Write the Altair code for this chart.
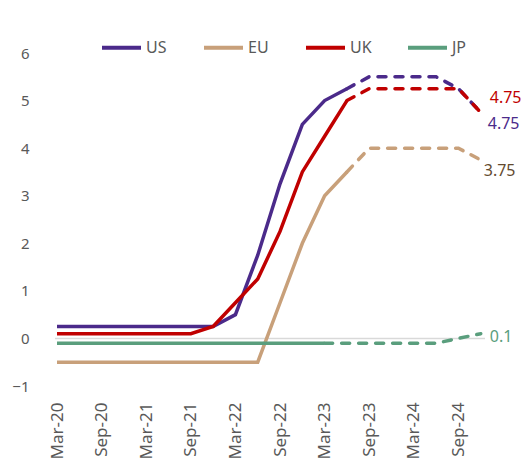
import altair as alt
import pandas as pd

quarters = ["Mar-20", "Jun-20", "Sep-20", "Dec-20", "Mar-21", "Jun-21", "Sep-21", "Dec-21",
            "Mar-22", "Jun-22", "Sep-22", "Dec-22", "Mar-23", "Jun-23", "Sep-23", "Dec-23",
            "Mar-24", "Jun-24", "Sep-24", "Dec-24"]

us = [0.25, 0.25, 0.25, 0.25, 0.25, 0.25, 0.25, 0.25, 0.5, 1.75, 3.25, 4.5, 5.0, 5.25, 5.5, 5.5, 5.5, 5.5, 5.25, 4.75]
eu = [-0.5, -0.5, -0.5, -0.5, -0.5, -0.5, -0.5, -0.5, -0.5, -0.5, 0.75, 2.0, 3.0, 3.5, 4.0, 4.0, 4.0, 4.0, 4.0, 3.75]
uk = [0.1, 0.1, 0.1, 0.1, 0.1, 0.1, 0.1, 0.25, 0.75, 1.25, 2.25, 3.5, 4.25, 5.0, 5.25, 5.25, 5.25, 5.25, 5.25, 4.75]
jp = [-0.1, -0.1, -0.1, -0.1, -0.1, -0.1, -0.1, -0.1, -0.1, -0.1, -0.1, -0.1, -0.1, -0.1, -0.1, -0.1, -0.1, -0.1, 0.0, 0.1]

series_names = ["US", "EU", "UK", "JP"]
series_values = [us, eu, uk, jp]
actual_until = ["Jun-23", "Jun-23", "Jun-23", "Mar-23"]
series_colors = ["#4B2A8A", "#C8A07A", "#C00000", "#5A9E7D"]
label_colors = ["#4B2A8A", "#634A2F", "#C00000", "#5A9E7D"]

FONT = "Noto Sans"
GREY = "#595959"

rows = []
for name, vals, until in zip(series_names, series_values, actual_until):
    split = quarters.index(until)
    for i, v in enumerate(vals):
        if i <= split:
            rows.append({"q": i, "series": name, "value": v, "part": "actual"})
        if i >= split:
            rows.append({"q": i, "series": name, "value": v, "part": "forecast"})
df = pd.DataFrame(rows)

label_js = "[" + ",".join("'" + q + "'" for q in quarters) + "][datum.value]"

x_enc = alt.X("q:Q",
              scale=alt.Scale(domain=[-0.09, 19.19], nice=False, zero=False),
              axis=alt.Axis(values=list(range(0, len(quarters), 2)), labelExpr=label_js,
                            labelAngle=270, labelPadding=16, labelFontSize=17, labelColor=GREY,
                            labelFont=FONT, domain=False, ticks=False, grid=False, title=None,
                            labelOverlap=False))
y_enc = alt.Y("value:Q",
              scale=alt.Scale(domain=[-1, 6], nice=False),
              axis=alt.Axis(values=[-1, 0, 1, 2, 3, 4, 5, 6], labelPadding=26, labelFontSize=15,
                            labelColor=GREY, labelFont=FONT, domain=False, ticks=False,
                            grid=False, title=None))

color_scale = alt.Scale(domain=series_names, range=series_colors)

zero = alt.Chart(pd.DataFrame({"value": [0]})).mark_rule(color="#D9D9D9", strokeWidth=1.5).encode(
    y=y_enc)

base = alt.Chart(df)

solid = base.transform_filter(alt.datum.part == "actual").mark_line(strokeWidth=3.5).encode(
    x=x_enc, y=y_enc,
    color=alt.Color("series:N", scale=color_scale, sort=series_names,
                    legend=alt.Legend(title=None, orient="none", legendX=45, legendY=-27,
                                      direction="horizontal", columns=4, columnPadding=28,
                                      symbolType="stroke", symbolSize=1521, symbolStrokeWidth=4,
                                      symbolDash=[1, 0], labelFontSize=16, labelColor=GREY,
                                      labelFont=FONT, labelOffset=3, padding=0, gridAlign="all")),
    order=alt.Order("q:Q"))

dashed = base.transform_filter(alt.datum.part == "forecast").mark_line(
    strokeWidth=3.5, strokeDash=[8, 9], strokeCap="round").encode(
    x=x_enc, y=y_enc,
    color=alt.Color("series:N", scale=color_scale, sort=series_names, legend=None),
    order=alt.Order("q:Q"))

label_offsets = {"US": (7, 12), "EU": (3, 11), "UK": (9, -14), "JP": (9, 3)}
labels = []
for name, vals, lc in zip(series_names, series_values, label_colors):
    last = pd.DataFrame({"q": [len(vals) - 1], "value": [vals[-1]], "txt": [str(vals[-1])]})
    dx, dy = label_offsets[name]
    labels.append(alt.Chart(last).mark_text(align="left", baseline="middle", dx=dx, dy=dy,
                                             fontSize=16, font=FONT, color=lc).encode(
        x=x_enc, y=y_enc, text="txt:N"))

chart = alt.layer(zero, solid, dashed, *labels).resolve_legend(color="independent").properties(
    width=430, height=333,
    padding={"left": 55, "top": 53, "right": 44, "bottom": 84},
    autosize=alt.AutoSizeParams(type="none"),
    background="white",
).configure_view(stroke=None)

chart.save("out.html", embed_options={"renderer": "svg", "actions": False})
